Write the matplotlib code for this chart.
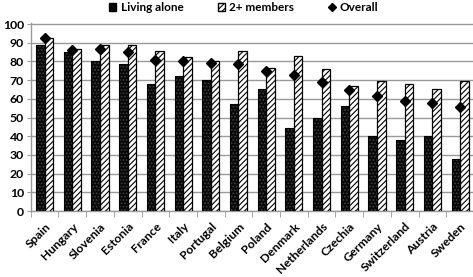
import matplotlib
matplotlib.use("Agg")
import matplotlib.pyplot as plt
import numpy as np
from matplotlib.patches import Patch
from matplotlib.lines import Line2D

countries = ["Spain", "Hungary", "Slovenia", "Estonia", "France", "Italy", "Portugal",
             "Belgium", "Poland", "Denmark", "Netherlands", "Czechia", "Germany",
             "Switzerland", "Austria", "Sweden"]
living_alone = [88.9, 85.1, 80.4, 78.8, 67.7, 72.1, 70.0, 57.4, 65.3, 44.4, 49.6, 56.0,
                40.4, 38.2, 40.0, 28.1]
two_plus = [92.6, 86.8, 88.8, 88.6, 85.4, 82.3, 80.2, 85.4, 76.7, 82.8, 75.8, 67.0,
            69.6, 68.2, 65.2, 69.4]
overall = [92.3, 86.3, 86.5, 85.1, 81.0, 80.4, 78.9, 78.4, 74.9, 72.5, 69.0, 64.9,
           61.6, 58.9, 57.9, 55.9]
yticks = [0, 10, 20, 30, 40, 50, 60, 70, 80, 90, 100]

plt.rcParams['font.family'] = ['Lato', 'DejaVu Sans']
plt.rcParams['hatch.linewidth'] = 0.8

fig = plt.figure(figsize=(4.73, 2.77), dpi=100)
ax = fig.add_axes([0.065, 0.238, 0.937, 0.678])

x = np.arange(len(countries))
w = 0.31
# Living alone: black with fine dots
ax.bar(x - w / 2, living_alone, w, color='#080808', edgecolor='#404040', hatch='.....',
       linewidth=0, zorder=3)
ax.bar(x - w / 2, living_alone, w, facecolor='none', edgecolor='black', linewidth=0.8, zorder=4)
# 2+ members: white with diagonal hatch
ax.bar(x + w / 2, two_plus, w, color='white', edgecolor='black', hatch='//////',
       linewidth=0.9, zorder=3)
ax.plot(x, overall, linestyle='none', marker='D', markersize=5, color='black', zorder=5)

ax.set_xlim(-0.5, len(countries) - 0.5)
ax.set_ylim(0, 100.4)
ax.set_yticks(yticks)
ax.set_yticklabels([str(v) for v in yticks], fontsize=8.8, fontweight='bold')
ax.yaxis.grid(True, color='#9a9a9a', linewidth=1.0, zorder=0)
ax.set_axisbelow(True)

ax.set_xticks(x)
ax.set_xticklabels(countries, rotation=45, ha='right', rotation_mode='anchor',
                   fontsize=8.8, fontweight='bold')
ax.set_xticks(np.arange(-0.5, len(countries), 1.0), minor=True)
ax.tick_params(axis='x', which='major', length=0, pad=7)
ax.tick_params(axis='x', which='minor', length=4, color='#9a9a9a', direction='out')
ax.tick_params(axis='y', length=3, color='#9a9a9a', pad=2)

for s in ['top', 'right']:
    ax.spines[s].set_visible(False)
for s in ['left', 'bottom']:
    ax.spines[s].set_color('#9a9a9a')
    ax.spines[s].set_linewidth(1.0)

handles = [
    Patch(facecolor='#0a0a0a', edgecolor='black', label='Living alone'),
    Patch(facecolor='white', edgecolor='black', hatch='//////', label='2+ members'),
    Line2D([], [], linestyle='none', marker='D', markersize=4, color='black', label='Overall'),
]
fig.legend(handles=handles, loc='center', bbox_to_anchor=(0.515, 0.972), ncol=3,
           frameon=False, prop={'size': 8.5, 'weight': 'bold'}, handlelength=0.6,
           handleheight=0.6, handletextpad=0.35, columnspacing=2.9, borderaxespad=0)

fig.savefig('out.png', dpi=100)
